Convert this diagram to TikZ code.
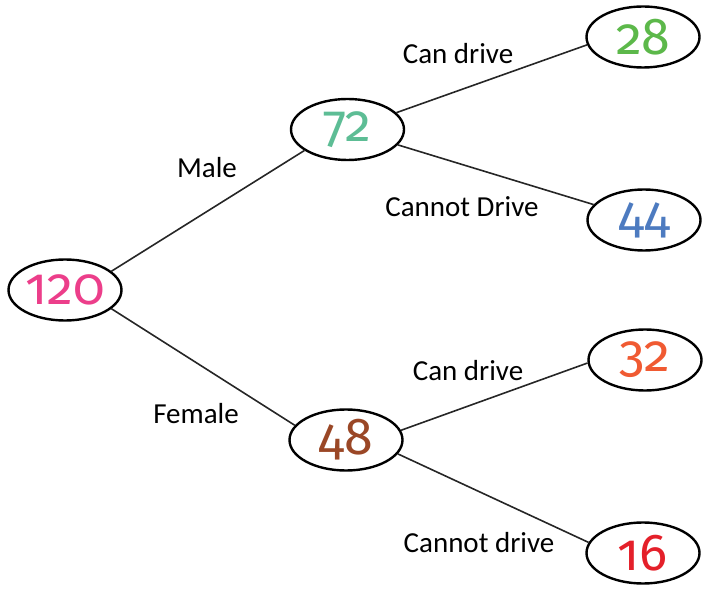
\documentclass[tikz,border=0pt]{standalone}
\usepackage{fontspec}
\setmainfont{Carlito}
\newfontfamily\numfont[Numbers=OldStyle]{Fira Sans}
\usetikzlibrary{shapes.geometric}
\definecolor{total}{HTML}{EC3E8A}
\definecolor{male}{HTML}{5DBD95}
\definecolor{maledrive}{HTML}{5CB84A}
\definecolor{malenodrive}{HTML}{4D7BC0}
\definecolor{female}{HTML}{9A4726}
\definecolor{femaledrive}{HTML}{F05A32}
\definecolor{femalenodrive}{HTML}{E4202A}
\tikzset{
  numbox/.style={draw=black,line width=2.4pt,ellipse,minimum width=113pt,minimum height=61pt,inner sep=0pt,font=\numfont\fontsize{52}{52}\selectfont,text=#1},
  branch/.style={line width=1.6pt,draw=black!85},
  tag/.style={inner sep=0pt,font=\fontsize{29}{34}\selectfont}
}
\begin{document}
\begin{tikzpicture}[x=1pt,y=-1pt]
  \useasboundingbox (0,0) rectangle (715,593);
  % counts
  \node[numbox=total] (all) at (65,290) {120};
  \node[numbox=male] (m) at (347.5,129.5) {72};
  \node[numbox=female] (f) at (346,440) {48};
  \node[numbox=maledrive] (mdrive) at (643,37) {28};
  \node[numbox=malenodrive] (mnodrive) at (644,220) {44};
  \node[numbox=femaledrive] (fdrive) at (645,360) {32};
  \node[numbox=femalenodrive] (fnodrive) at (643,553) {16};
  % branches
  \draw[branch] (all.22) -- (m.206);
  \draw[branch] (all.338) -- (f.164);
  \draw[branch] (m.19.5) -- (mdrive.188);
  \draw[branch] (m.343) -- (mnodrive.163);
  \draw[branch] (f.10) -- (fdrive.183);
  \draw[branch] (f.345) -- (fnodrive.169);
  % labels
  \node[tag] (lmale) at (207,168) {Male};
  \node[tag] (lfemale) at (196,414) {Female};
  \node[tag] (lmdrive) at (458,54) {Can drive};
  \node[tag] (lmnodrive) at (462,207) {Cannot Drive};
  \node[tag] (lfdrive) at (468,371) {Can drive};
  \node[tag] (lfnodrive) at (479,543) {Cannot drive};
\end{tikzpicture}
\end{document}
